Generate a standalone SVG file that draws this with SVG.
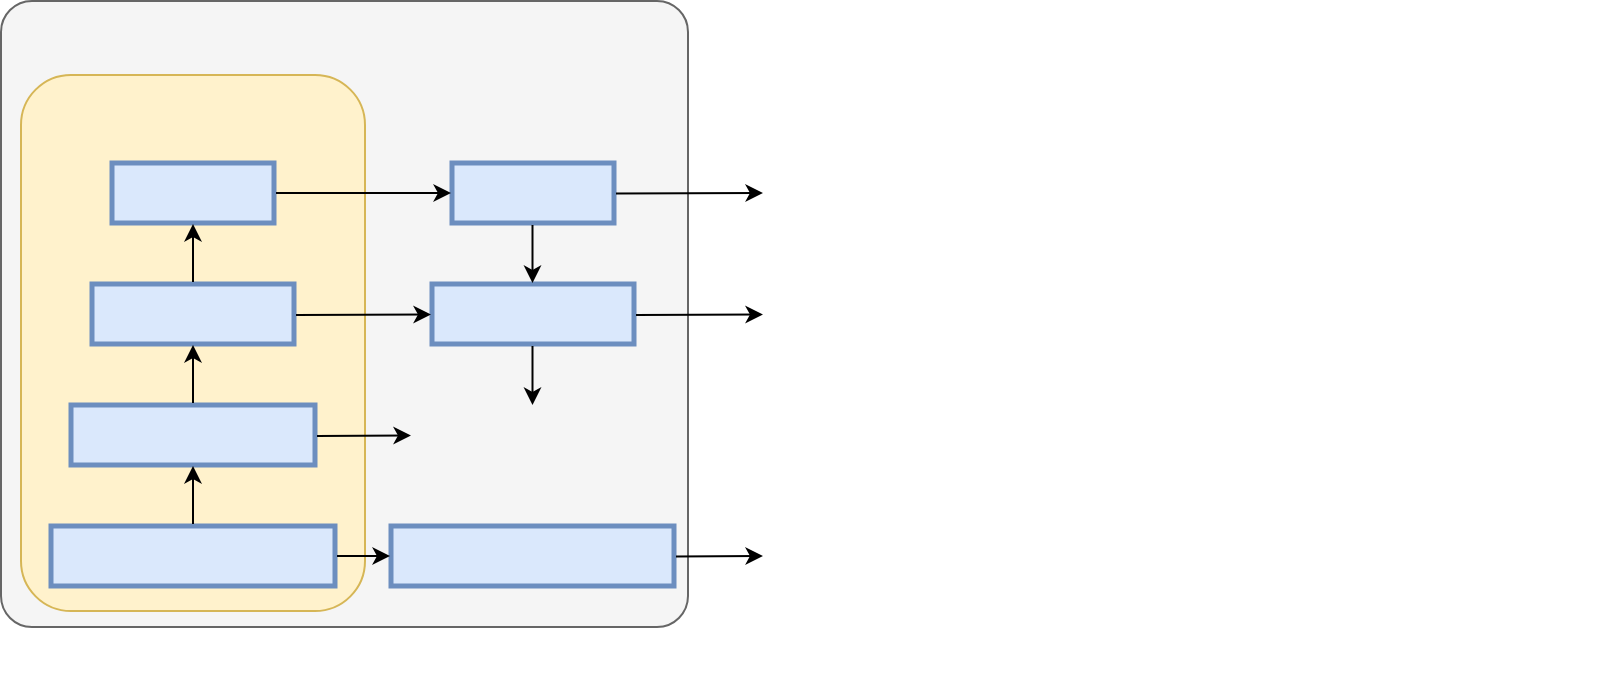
<svg xmlns="http://www.w3.org/2000/svg" width="1619" height="699" viewBox="0 0 1619 699">
<style>
.box{fill:#dae8fc;stroke:#6c8ebf;stroke-width:5}
.edge{fill:none;stroke:#000000;stroke-width:2;marker-end:url(#arr)}
</style>
<defs>
<marker id="arr" markerUnits="userSpaceOnUse" markerWidth="20" markerHeight="20" refX="13" refY="9" orient="auto" overflow="visible">
<path d="M0,0 L18,9 L0,18 L5,9 Z" fill="#000000"/>
</marker>
</defs>
<rect width="1619" height="699" fill="#ffffff"/>
<g id="outer"><rect x="1" y="1" width="687" height="626" rx="31" ry="31" fill="#f5f5f5" stroke="#666666" stroke-width="2"/></g>
<g id="group"><rect x="21" y="75" width="344" height="536" rx="50" ry="50" fill="#fff2cc" stroke="#d6b656" stroke-width="2"/></g>
<g id="nodeA"><rect class="box" x="112" y="163" width="162" height="60"/></g>
<g id="nodeB"><rect class="box" x="92" y="284" width="202" height="60"/></g>
<g id="nodeC"><rect class="box" x="71" y="405" width="244" height="60"/></g>
<g id="nodeD"><rect class="box" x="51" y="526" width="284" height="60"/></g>
<g id="nodeE"><rect class="box" x="452" y="163" width="162" height="60"/></g>
<g id="nodeF"><rect class="box" x="432" y="284" width="202" height="60"/></g>
<g id="nodeG"><rect class="box" x="391" y="526" width="283" height="60"/></g>
<g id="connectors">
<path class="edge" d="M276,193 L446,193"/>
<path class="edge" d="M296,315 L426,314.5"/>
<path class="edge" d="M317,436 L406,435.5"/>
<path class="edge" d="M337,556 L385,556"/>
<path class="edge" d="M616,193.5 L758,193"/>
<path class="edge" d="M636,315 L758,314.5"/>
<path class="edge" d="M676,556.5 L758,556"/>
<path class="edge" d="M532.5,225 L532.5,278"/>
<path class="edge" d="M532.5,346 L532.5,400"/>
<path class="edge" d="M193,282 L193,229"/>
<path class="edge" d="M193,403 L193,350"/>
<path class="edge" d="M193,524 L193,471"/>
</g>
</svg>
